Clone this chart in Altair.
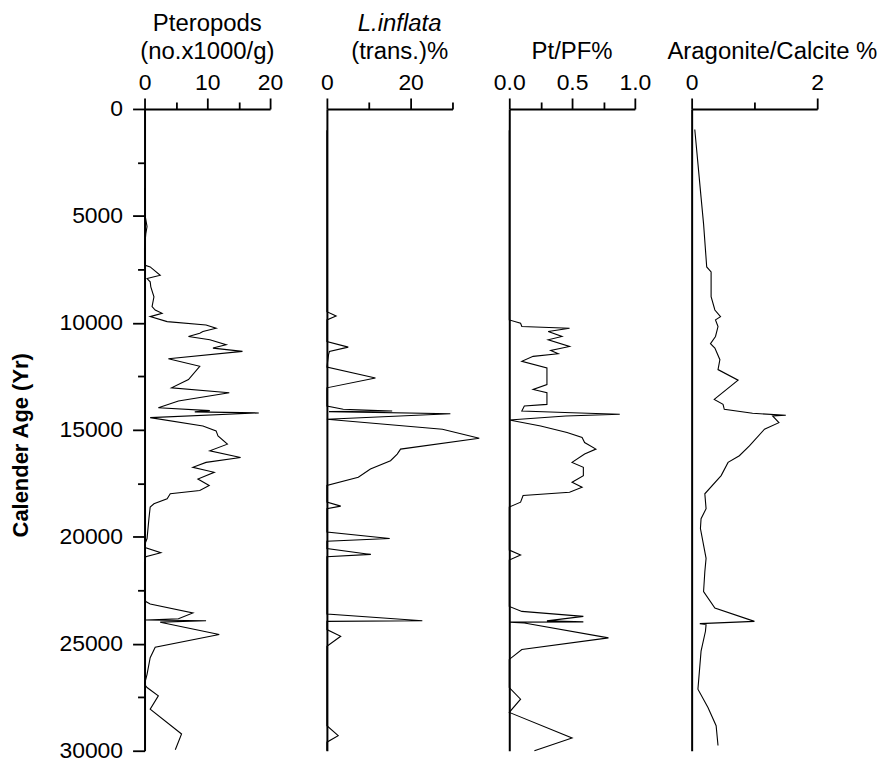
import altair as alt
import pandas as pd

FONT = "Liberation Sans"

# ---------------- data ----------------
ptero_age = [3700, 5000, 5500, 5840, 6500, 7300, 7385, 7772, 7926, 8082, 8314, 8778, 9243, 9398,
             9553, 9707, 9940, 10095, 10250, 10404, 10482, 10636, 10791, 11023, 11178, 11333,
             11674, 12030, 12649, 13036, 13268, 13655, 13965, 14100, 14160, 14210, 14430, 14816,
             15049, 15281, 15668, 15978, 16289, 16521, 16753, 16986, 17296, 17603, 17836, 17989,
             18221, 18453, 18611, 19150, 20079, 20390, 20516, 20748, 20934, 21166, 22866, 23024,
             23145, 23563, 23830, 23890, 23920, 23990, 24570, 25160, 25652, 26426, 26890, 27046,
             27436, 28054, 29215, 29950]
ptero_val = [0, 0.1, 0.4, 0.2, 0, 0, 0.9, 2.5, 0.4, 0.9, 1.0, 1.5, 1.2, 1.7,
             2.8, 0.9, 3.6, 9.8, 11.4, 9.3, 8.8, 7.0, 10.4, 13.0, 10.9, 15.6,
             3.8, 8.8, 7.0, 4.3, 13.5, 5.4, 2.2, 10.4, 8.0, 18.2, 0.9, 9.3,
             11.4, 11.7, 13.2, 10.4, 15.3, 9.8, 7.7, 11.1, 8.5, 10.3, 8.8, 4.1,
             3.6, 1.5, 0.9, 0.7, 0.4, 0, 0.2, 2.6, 0.2, 0, 0, 0.2,
             0.9, 7.7, 5.4, 0.2, 9.8, 2.5, 11.9, 1.7, 0.9, 0.4, 0, 0.4,
             2.2, 0.9, 5.9, 4.9]

linf_age = [1000, 9475, 9675, 9861, 10868, 11133, 11333, 11487, 12062, 12573, 13036, 13888,
            14040, 14120, 14150, 14244, 14507, 14972, 15389, 15900, 16132, 16442, 16829, 17217,
            17603, 18379, 18565, 18686, 19772, 20079, 20204, 20545, 20823, 20934, 23609, 23920,
            23952, 24338, 24649, 25114, 28829, 29294, 29600, 30000]
linf_val = [0, 0, 2.2, 0, 0, 5.1, 0.6, 0.4, 0, 11.6, 0, 0,
            3.9, 15.6, 0.5, 29.5, 0, 27.6, 36.4, 17.6, 16.8, 15.2, 10.4, 7.5,
            0, 0, 3.3, 0, 0, 15.0, 0, 0, 10.5, 0, 0, 22.8,
            0, 0, 3.3, 0, 0, 2.7, 0, 0]

ptpf_age = [1000, 9861, 10017, 10172, 10250, 10404, 10636, 10791, 11101, 11287, 11442, 11565,
            11797, 12108, 12880, 13113, 13268, 13809, 13888, 14120, 14198, 14274, 14352, 14538,
            14816, 15126, 15358, 15592, 15900, 16132, 16521, 16753, 17139, 17449, 17682, 17914,
            18067, 18379, 18611, 20622, 20855, 21087, 23255, 23487, 23720, 23930, 23975, 23990,
            24030, 24724, 25267, 25731, 27046, 27590, 28207, 29401, 30000]
ptpf_val = [0, 0, 0.09, 0.10, 0.48, 0.31, 0.42, 0.31, 0.48, 0.33, 0.39, 0.19,
            0.10, 0.30, 0.30, 0.19, 0.30, 0.30, 0.12, 0.10, 0.50, 0.88, 0.45, 0,
            0.25, 0.46, 0.58, 0.60, 0.69, 0.60, 0.50, 0.59, 0.59, 0.50, 0.58, 0.48,
            0.11, 0.09, 0, 0, 0.09, 0, 0, 0.10, 0.59, 0.30, 0.59, 0,
            0.12, 0.79, 0.10, 0, 0, 0.09, 0, 0.50, 0.20]

arag_age = [960, 4134, 5374, 7385, 7617, 8778, 9398, 9707, 9861, 10172, 10636, 10976, 11178,
            11720, 12184, 12680, 13577, 13809, 14041, 14226, 14319, 14352, 14663, 14972, 15745,
            16210, 16521, 17139, 17989, 18686, 19150, 19614, 21008, 21630, 22559, 23331, 23952,
            24059, 24106, 24416, 25346, 27125, 27975, 28829, 29758]
arag_val = [0.05, 0.15, 0.19, 0.24, 0.31, 0.31, 0.37, 0.46, 0.38, 0.42, 0.38, 0.30, 0.37,
            0.45, 0.42, 0.74, 0.36, 0.50, 0.52, 0.97, 1.50, 1.29, 1.39, 1.16, 0.92,
            0.76, 0.58, 0.47, 0.21, 0.23, 0.15, 0.14, 0.23, 0.21, 0.19, 0.37, 1.00,
            0.13, 0.23, 0.22, 0.15, 0.10, 0.26, 0.39, 0.42]

age_ticks = list(range(0, 30001, 2500))

# ---------------- panels ----------------
Y_SCALE = alt.Scale(domain=[0, 30000], reverse=True, nice=False, zero=False)


def panel(age, val, domain, ticks, test, fmt, title, subtitle=None, italic=False, dx=0, first=False):
    df = pd.DataFrame({"age": age, "value": val})
    x_axis = alt.Axis(
        orient="top", values=ticks, title=None, grid=False,
        labelExpr=f"({test}) ? format(datum.value, '{fmt}') : ''",
        labelFont=FONT, labelFontSize=23, labelColor="black", labelPadding=4,
        labelFlush=False, labelOverlap=False,
        tickSize={"condition": {"test": test, "value": 11}, "value": 7},
        tickColor="black", tickWidth=1.8, domainColor="black", domainWidth=2,
    )
    if first:
        y_axis = alt.Axis(
            orient="left", values=age_ticks, grid=False,
            labelExpr="datum.value % 5000 === 0 ? format(datum.value, 'd') : ''",
            labelFont=FONT, labelFontSize=23, labelColor="black", labelPadding=10,
            labelFlush=False, labelOverlap=False,
            tickSize={"condition": {"test": "datum.value % 5000 === 0", "value": 12}, "value": 7},
            tickColor="black", tickWidth=1.8, domainColor="black", domainWidth=2,
            title="Calender Age (Yr)", titleFont=FONT, titleFontSize=22, titleFontWeight="bold",
            titleColor="black", titlePadding=26, titleY=337,
        )
    else:
        y_axis = alt.Axis(labels=False, ticks=False, grid=False, title=None,
                          domainColor="black", domainWidth=2)
    tkw = dict(text=title, font=FONT, fontSize=24, fontWeight="normal", color="black",
               anchor="middle", offset=7, dx=dx)
    if italic:
        tkw["fontStyle"] = "italic"
    if subtitle:
        tkw.update(subtitle=subtitle, subtitleFont=FONT, subtitleFontSize=24,
                   subtitleColor="black", subtitlePadding=4)
    return (
        alt.Chart(df)
        .mark_line(color="black", strokeWidth=1.1, clip=False)
        .encode(
            x=alt.X("value:Q", scale=alt.Scale(domain=domain, nice=False, zero=False), axis=x_axis),
            y=alt.Y("age:Q", scale=Y_SCALE, axis=y_axis),
            order=alt.Order("age:Q"),
        )
        .properties(width=126, height=644, title=alt.TitleParams(**tkw),
                    view=alt.ViewBackground(stroke="transparent", strokeWidth=0))
    )


p1 = panel(ptero_age, ptero_val, [0, 20], [0, 5, 10, 15, 20], "datum.value % 10 === 0", "d",
           "Pteropods", subtitle="(no.x1000/g)", first=True)
p2 = panel(linf_age, linf_val, [0, 30], [0, 10, 20, 30], "datum.value % 20 === 0", "d",
           "L.inflata", subtitle="(trans.)%", italic=True, dx=10)
p3 = panel(ptpf_age, ptpf_val, [0, 1], [0, 0.25, 0.5, 0.75, 1.0], "(datum.value * 2) % 1 === 0", ".1f",
           "Pt/PF%")
p4 = panel(arag_age, arag_val, [0, 2], [0, 1, 2], "datum.value % 2 === 0", "d",
           "Aragonite/Calcite %", dx=18)

chart = (
    alt.hconcat(p1, p2, p3, p4, spacing=57, bounds="flush")
    .properties(padding={"left": 2, "top": 3, "right": 0, "bottom": 0})
    .configure_view(stroke="transparent", strokeWidth=0)
    .configure_axis(grid=False)
    .configure(background="white")
)

chart.save("out.html", embed_options={"renderer": "svg", "actions": False})
